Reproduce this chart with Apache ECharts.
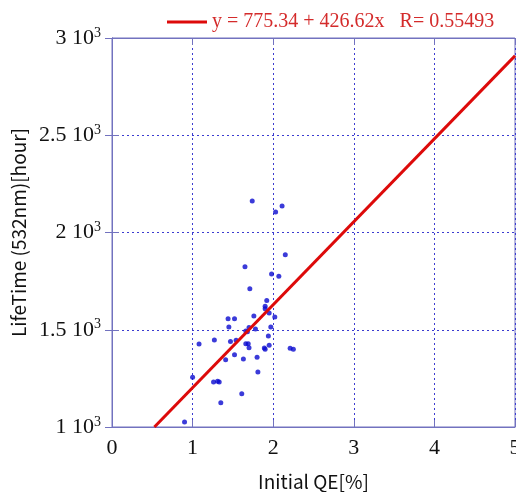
<!DOCTYPE html>
<html>
<head>
<meta charset="utf-8">
<script src="https://cdn.jsdelivr.net/npm/echarts@6/dist/echarts.min.js"></script>
<style>
  html, body { margin: 0; padding: 0; background: #fff; }
  #chart { width: 516px; height: 492px; }
</style>
</head>
<body>
<div id="chart"></div>
<script>
// 初期QE と 寿命 (532nm)
const qe = [1.74, 2.11, 2.03, 2.15, 1.65, 1.98, 2.07, 1.71, 1.92, 1.90, 1.90, 1.95, 1.76, 2.02, 1.44, 1.52,
    1.45, 1.70, 1.78, 1.97, 1.66, 1.68, 1.94, 1.08, 1.27, 1.47, 1.54, 1.66, 1.69, 1.70, 1.89, 1.90,
    1.95, 2.21, 2.25, 1.52, 1.41, 1.63, 1.80, 1.81, 1.00, 1.26, 1.31, 1.33, 1.61, 1.35, 0.90]
const lifetime = [2162, 2136, 2105, 1886, 1824, 1787, 1775, 1711, 1651, 1621, 1608, 1586, 1571, 1566, 1557, 1557,
    1514, 1511, 1504, 1514, 1494, 1490, 1468, 1427, 1447, 1439, 1446, 1428, 1428, 1408, 1406, 1400,
    1420, 1405, 1400, 1372, 1346, 1350, 1358, 1283, 1256, 1231, 1235, 1231, 1171, 1125, 1026]

// 回帰直線の両端
const fitX = [0.526, 5.0]
const fitY = [1000, 2908]
const fitLabel = 'y = 775.34 + 426.62x   R= 0.55493'

const xTicks = ['0', '1', '2', '3', '4', '5']
const yTicks = { 1000: '1', 1500: '1.5', 2000: '2', 2500: '2.5', 3000: '3' }

const axisColor = '#7272bf'
const gridColor = '#3b3bd0'
const serif = '"Liberation Serif", "DejaVu Serif", serif'
const gothic = '"Noto Sans CJK JP", "Noto Sans", sans-serif'

const chart = echarts.init(document.getElementById('chart'))

const tickStyle = {
    show: true,
    inside: true,
    length: 7,
    lineStyle: { color: axisColor }
}

const option = {
    backgroundColor: '#fff',
    animation: false,
    grid: {
        left: 112,
        right: 1,
        top: 38,
        bottom: 65,
        outerBoundsMode: 'none',
        show: true,
        borderColor: axisColor,
        borderWidth: 1
    },
    legend: {
        left: 162,
        top: 7,
        itemWidth: 40,
        itemHeight: 3,
        itemGap: 5,
        icon: 'rect',
        data: [fitLabel],
        textStyle: {
            color: '#d42b2b',
            fontFamily: serif,
            fontSize: 20
        }
    },
    xAxis: [{
        type: 'value',
        min: 0,
        max: 5,
        interval: 1,
        name: 'Initial QE[%]',
        nameLocation: 'middle',
        nameGap: 45,
        nameTextStyle: { color: '#111', fontFamily: gothic, fontSize: 19 },
        axisLine: { lineStyle: { color: axisColor } },
        axisTick: tickStyle,
        axisLabel: {
            color: '#111',
            fontFamily: serif,
            fontSize: 22,
            margin: 10,
            formatter: (v) => xTicks[Math.round(v)]
        },
        splitLine: { lineStyle: { color: gridColor, type: [2, 3], width: 1 } }
    }, {
        type: 'value',
        position: 'top',
        min: 0,
        max: 5,
        interval: 1,
        axisLine: { lineStyle: { color: axisColor } },
        axisTick: tickStyle,
        axisLabel: { show: false },
        splitLine: { show: false }
    }],
    yAxis: [{
        type: 'value',
        min: 1000,
        max: 3000,
        interval: 500,
        name: 'LifeTime (532nm)[hour]',
        nameLocation: 'middle',
        nameGap: 80,
        nameTextStyle: { color: '#111', fontFamily: gothic, fontSize: 19 },
        axisLine: { show: true, lineStyle: { color: axisColor } },
        axisTick: tickStyle,
        axisLabel: {
            margin: 11,
            formatter: (v) => '{a|' + yTicks[v] + ' 10}{s|3}',
            rich: {
                a: { color: '#111', fontFamily: serif, fontSize: 22, lineHeight: 24 },
                s: { color: '#111', fontFamily: serif, fontSize: 14, lineHeight: 14, verticalAlign: 'top' }
            }
        },
        splitLine: { lineStyle: { color: gridColor, type: [2, 3], width: 1 } }
    }, {
        type: 'value',
        position: 'right',
        min: 1000,
        max: 3000,
        interval: 500,
        axisLine: { show: true, lineStyle: { color: axisColor } },
        axisTick: tickStyle,
        axisLabel: { show: false },
        splitLine: { show: false }
    }],
    series: [{
        name: 'data',
        type: 'scatter',
        symbolSize: 5,
        itemStyle: { color: '#0a0ad0' },
        data: qe.map((x, i) => [x, lifetime[i]]),
        z: 3
    }, {
        name: fitLabel,
        type: 'line',
        symbol: 'none',
        lineStyle: { color: '#dd0a0a', width: 3 },
        itemStyle: { color: '#dd0a0a' },
        data: fitX.map((x, i) => [x, fitY[i]]),
        z: 4
    }]
}

chart.setOption(option)
</script>
</body>
</html>
